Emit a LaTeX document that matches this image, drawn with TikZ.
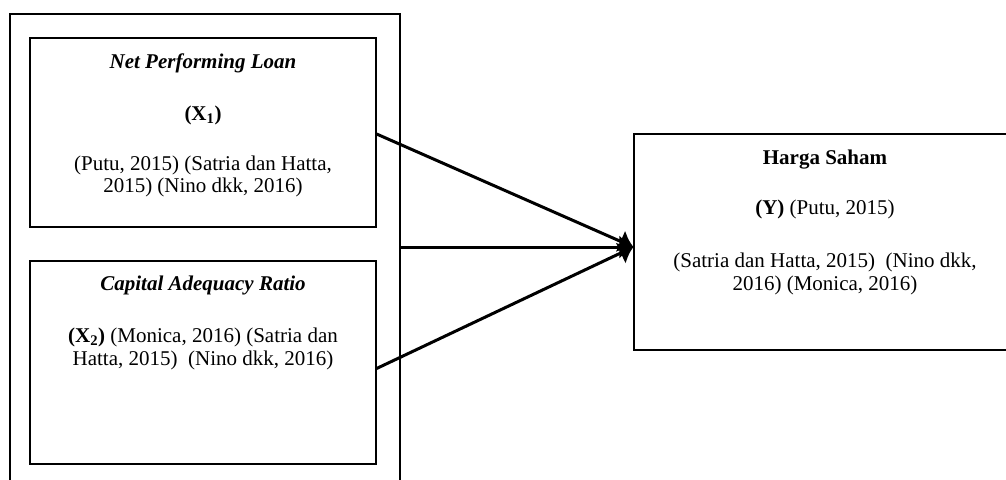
\documentclass[tikz,border=0pt]{standalone}
\usepackage{fontspec}
\setmainfont{Liberation Serif}
\usetikzlibrary{arrows.meta,positioning}

\begin{document}
\begin{tikzpicture}[x=1pt,y=-1pt,
  box/.style={draw,line width=1.2pt,rectangle,inner sep=0pt},
  outer/.style={draw,line width=2pt,rectangle,inner sep=0pt},
  txt/.style={align=center,inner sep=0pt,font=\fontsize{21}{22.5}\selectfont},
  arr/.style={line width=3pt,-{Latex[length=14pt,width=24pt]}}]
\clip (0,0) rectangle (1006,479);
\node[outer,minimum width=390pt,minimum height=486pt] (frame) at (205,257) {};
\node[box,minimum width=346pt,minimum height=189pt] (npl) at (203,132.5) {};
\node[box,minimum width=346pt,minimum height=203pt] (car) at (203,362.5) {};
\node[box,minimum width=382pt,minimum height=216pt] (hs) at (825,242) {};
\node[txt,below=16.5pt of npl.north] (npltxt) {\textbf{\textit{Net Performing Loan}}\\[29pt]
  \textbf{(X\textsubscript{1})}\\[27.5pt]
  (Putu, 2015) (Satria dan Hatta,\\ 2015) (Nino dkk, 2016)};
\node[txt,below=15.5pt of car.north] (cartxt) {\textbf{\textit{Capital Adequacy Ratio}}\\[29.5pt]
  \textbf{(X\textsubscript{2})} (Monica, 2016) (Satria dan\\ Hatta, 2015)\ \ (Nino dkk, 2016)};
\node[txt,below=16.5pt of hs.north] (hstxt) {\textbf{Harga Saham}\\[27.5pt]
  \textbf{(Y)} (Putu, 2015)\\[30.5pt]
  (Satria dan Hatta, 2015)\ \ (Nino dkk,\\ 2016) (Monica, 2016)};
\coordinate (tip) at ([yshift=-5pt]hs.west);
\draw[arr] ([yshift=-1.5pt]npl.east) -- (tip);
\draw[arr] (frame.east |- tip) -- (tip);
\draw[arr] ([yshift=-6pt]car.east) -- (tip);
\end{tikzpicture}
\end{document}
